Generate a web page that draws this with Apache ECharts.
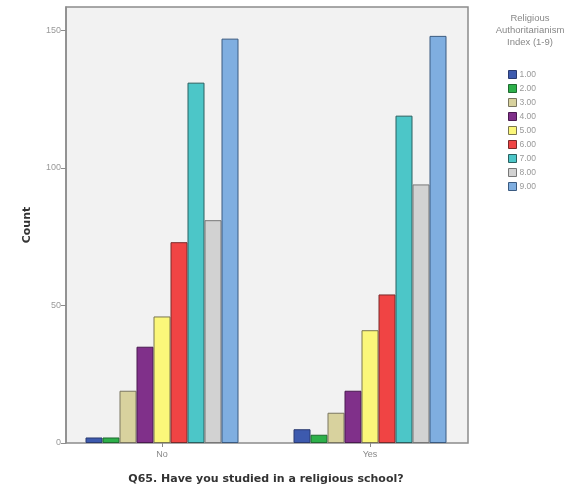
<!DOCTYPE html>
<html><head><meta charset="utf-8">
<script src="https://cdn.jsdelivr.net/npm/echarts@6/dist/echarts.min.js"></script>
<style>html,body{margin:0;padding:0;background:#fff}#c{width:570px;height:490px}</style>
</head><body><div id="c"></div>
<script>
const categories = ['No', 'Yes'];
const seriesNames = ['1.00','2.00','3.00','4.00','5.00','6.00','7.00','8.00','9.00'];
const values = [
  [2, 5],
  [2, 3],
  [19, 11],
  [35, 19],
  [46, 41],
  [73, 54],
  [131, 119],
  [81, 94],
  [147, 148]
];
const yTicks = [0, 50, 100, 150];
const colors = ['#3D5AAE','#2DB04A','#D8D29E','#80308A','#FBF77A','#F04444','#4CC6C8','#D2D2D2','#7FAEE0'];
const borders = ['#2a3a70','#1f6a30','#7a7660','#4a1a50','#7a7650','#7a2a2a','#2a6060','#777777','#3a5a80'];

const yMax = 158.5;
const series = seriesNames.map((n, i) => ({
  name: n, type: 'bar', xAxisIndex: 1, yAxisIndex: 1,
  data: values[i], barWidth: 17, barGap: '0%',
  itemStyle: { color: colors[i], borderColor: borders[i], borderWidth: 1 }
}));
const chart = echarts.init(document.getElementById('c'));
chart.setOption({
  animation: false,
  color: colors,
  grid: [
    { left: 66, top: 7, width: 402, height: 436, show: true, backgroundColor: '#F2F2F2', borderColor: '#8c8c8c', borderWidth: 1.5 },
    { left: 58, top: 7, width: 416, height: 436 }
  ],
  xAxis: [
    { gridIndex: 0, type: 'category', data: categories, show: false },
    { gridIndex: 1, type: 'category', data: categories,
      axisLine: { show: false },
      axisTick: { show: true, alignWithLabel: true, length: 4, lineStyle: { color: '#888' } },
      axisLabel: { color: '#888', fontSize: 9, margin: 7, fontFamily: 'Liberation Sans' },
      name: 'Q65. Have you studied in a religious school?', nameLocation: 'middle', nameGap: 31,
      nameTextStyle: { fontSize: 11, fontWeight: 'bold', color: '#333', fontFamily: 'DejaVu Sans' }
    }
  ],
  yAxis: [
    { gridIndex: 0, type: 'value', min: 0, max: yMax,
      axisLine: { show: true, lineStyle: { color: '#8c8c8c', width: 1.5 } },
      axisTick: { show: true, length: 5, lineStyle: { color: '#8c8c8c' }, customValues: yTicks },
      splitLine: { show: false },
      axisLabel: { color: '#999', fontSize: 9, margin: 5, fontFamily: 'Liberation Sans', customValues: yTicks },
      name: 'Count', nameLocation: 'middle', nameGap: 33, nameRotate: 90,
      nameTextStyle: { fontSize: 11, fontWeight: 'bold', color: '#333', fontFamily: 'DejaVu Sans' }
    },
    { gridIndex: 1, type: 'value', min: 0, max: yMax, show: false, splitLine: { show: false } }
  ],
  graphic: [{
    type: 'text', x: 530, y: 12,
    style: { text: 'Religious\nAuthoritarianism\nIndex (1-9)', align: 'center', verticalAlign: 'top',
      fontSize: 9.5, fill: '#888', lineHeight: 12, fontFamily: 'Liberation Sans' }
  }],
  legend: {
    orient: 'vertical', left: 503, top: 65, itemWidth: 8, itemHeight: 8, itemGap: 5,
    icon: 'rect',
    textStyle: { fontSize: 8.5, color: '#999', padding: [0,0,0,-2], fontFamily: 'Liberation Sans' },
    data: seriesNames.map((n, i) => ({ name: n, itemStyle: { borderColor: borders[i], borderWidth: 1 } }))
  },
  series: series
});
</script></body></html>
